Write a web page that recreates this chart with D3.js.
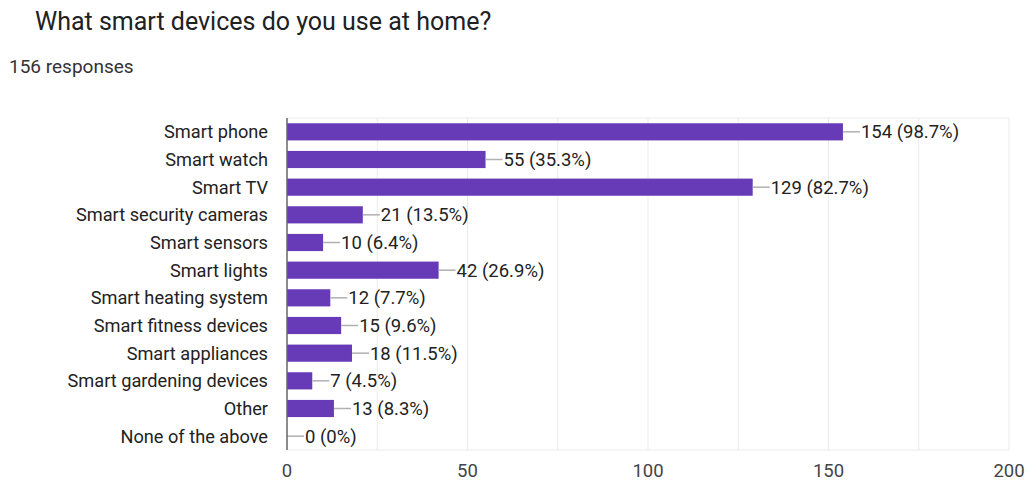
<!DOCTYPE html>
<html>
<head>
<meta charset="utf-8">
<script src="https://cdn.jsdelivr.net/npm/d3@7"></script>
<style>
  body { margin: 0; background: #fff; font-family: Roboto, "Noto Sans", sans-serif; }
  svg { display: block; }
</style>
</head>
<body>
<svg id="chart" width="1027" height="482"></svg>
<script>
// respuestas de la encuesta
const categories = ["Smart phone", "Smart watch", "Smart TV", "Smart security cameras", "Smart sensors",
  "Smart lights", "Smart heating system", "Smart fitness devices", "Smart appliances",
  "Smart gardening devices", "Other", "None of the above"];
const counts = [154, 55, 129, 21, 10, 42, 12, 15, 18, 7, 13, 0];
const percents = ["98.7%", "35.3%", "82.7%", "13.5%", "6.4%", "26.9%", "7.7%", "9.6%", "11.5%", "4.5%", "8.3%", "0%"];
const xTicks = [0, 50, 100, 150, 200];
const gridValues = [25, 50, 75, 100, 125, 150, 175, 200];

const svg = d3.select("#chart");
const plotLeft = 287, plotRight = 1009, plotTop = 118, plotBottom = 450;

svg.append("text").attr("x", 35).attr("y", 30)
  .attr("font-size", 25).attr("fill", "#202124").text("What smart devices do you use at home?");
svg.append("text").attr("x", 9).attr("y", 73)
  .attr("font-size", 19).attr("fill", "#333").text("156 responses");

const x = d3.scaleLinear().domain([0, 200]).range([plotLeft, plotRight]);
const y = d3.scaleBand().domain(categories).range([plotTop, plotBottom]).paddingInner(0.38).paddingOuter(0.19);

// rejilla
svg.append("g").selectAll("line").data(gridValues).enter().append("line")
  .attr("x1", d => x(d)).attr("x2", d => x(d)).attr("y1", plotTop).attr("y2", plotBottom)
  .attr("stroke", "#ebebeb").attr("stroke-width", 1);
svg.append("line").attr("x1", plotLeft).attr("x2", plotRight).attr("y1", plotTop).attr("y2", plotTop).attr("stroke", "#ebebeb");
svg.append("line").attr("x1", plotLeft).attr("x2", plotRight).attr("y1", plotBottom).attr("y2", plotBottom).attr("stroke", "#ebebeb");

const rows = categories.map((c, i) => ({ c, v: counts[i], p: percents[i] }));

svg.append("g").selectAll("rect").data(rows).enter().append("rect")
  .attr("x", x(0)).attr("y", d => y(d.c))
  .attr("width", d => x(d.v) - x(0)).attr("height", y.bandwidth())
  .attr("fill", "#673ab7");

// lineas guia
svg.append("g").selectAll("line").data(rows).enter().append("line")
  .attr("x1", d => x(d.v)).attr("x2", d => x(d.v) + 17)
  .attr("y1", d => y(d.c) + y.bandwidth() / 2).attr("y2", d => y(d.c) + y.bandwidth() / 2)
  .attr("stroke", "#b0b0b0").attr("stroke-width", 1.5);

svg.append("g").selectAll("text").data(rows).enter().append("text")
  .attr("x", d => x(d.v) + 18).attr("y", d => y(d.c) + y.bandwidth() / 2)
  .attr("dy", "0.36em").attr("font-size", 18.5).attr("fill", "#222")
  .text(d => `${d.v} (${d.p})`);

// etiquetas de categorias
svg.append("g").selectAll("text").data(categories).enter().append("text")
  .attr("x", 268).attr("y", d => y(d) + y.bandwidth() / 2)
  .attr("dy", "0.36em").attr("text-anchor", "end")
  .attr("font-size", 18.2).attr("fill", "#222").text(d => d);

// eje cero
svg.append("line").attr("x1", x(0)).attr("x2", x(0)).attr("y1", plotTop).attr("y2", plotBottom)
  .attr("stroke", "#666").attr("stroke-width", 1.5);

svg.append("g").selectAll("text").data(xTicks).enter().append("text")
  .attr("x", d => x(d)).attr("y", 477).attr("text-anchor", "middle")
  .attr("font-size", 18.5).attr("fill", "#444").text(d => d);
</script>
</body>
</html>
